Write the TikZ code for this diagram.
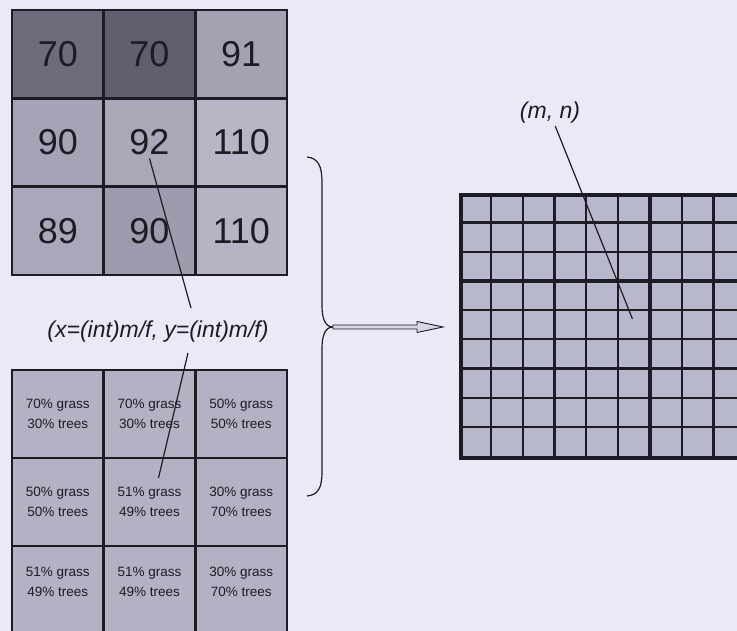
\documentclass[tikz,border=0pt]{standalone}
\usepackage{fontspec}
\setmainfont{Liberation Sans}
\usetikzlibrary{calc}
\definecolor{Page}{HTML}{EAEAF6}
\definecolor{Ink}{HTML}{1C1C24}
\definecolor{MixFill}{HTML}{B2B2C4}
\definecolor{FineFill}{HTML}{B8B8CC}
\definecolor{ArrowFill}{HTML}{D6D6E4}
\tikzset{
valcell/.style={draw=Ink, line width=2.4pt, minimum width=91.7pt, minimum height=88.3pt, inner sep=0pt, text=Ink, font=\fontsize{36}{40}\selectfont},
mixcell/.style={draw=Ink, line width=2.4pt, minimum width=91.7pt, minimum height=88pt, inner sep=0pt, fill=MixFill, text=Ink, align=center, font=\fontsize{13.5}{20}\selectfont},
finebox/.style={draw=Ink, line width=3.6pt, fill=FineFill, minimum width=286pt, minimum height=263pt, inner sep=0pt},
finethin/.style={draw=Ink, line width=2.2pt},
finethick/.style={draw=Ink, line width=3.6pt},
pointer/.style={draw=Ink, line width=1.2pt},
bracepath/.style={draw=Ink, line width=1.2pt},
hollowarrow/.style={draw=Ink, line width=0.9pt, fill=ArrowFill, line join=miter},
coordlabel/.style={text=Ink, inner sep=2pt, font=\fontsize{23}{26}\selectfont\itshape}
}
\begin{document}
\begin{tikzpicture}[x=1pt, y=-1pt]
  \useasboundingbox (0,0) rectangle (737,631);
  \clip (0,0) rectangle (737,631);
  \fill[Page] (0,0) rectangle (737,631);
  \node[valcell, fill={rgb,255:red,108;green,108;blue,124}] (v11) at (57.8,54.2) {70};
  \node[valcell, fill={rgb,255:red,94;green,94;blue,110}] (v12) at (149.5,54.2) {70};
  \node[valcell, fill={rgb,255:red,162;green,162;blue,178}] (v13) at (241.2,54.2) {91};
  \node[valcell, fill={rgb,255:red,164;green,164;blue,182}] (v21) at (57.8,142.5) {90};
  \node[valcell, fill={rgb,255:red,168;green,168;blue,184}] (v22) at (149.5,142.5) {92};
  \node[valcell, fill={rgb,255:red,182;green,182;blue,198}] (v23) at (241.2,142.5) {110};
  \node[valcell, fill={rgb,255:red,168;green,168;blue,186}] (v31) at (57.8,230.8) {89};
  \node[valcell, fill={rgb,255:red,156;green,156;blue,174}] (v32) at (149.5,230.8) {90};
  \node[valcell, fill={rgb,255:red,180;green,180;blue,196}] (v33) at (241.2,230.8) {110};
  \node[mixcell] (m11) at (57.8,414) {70\% grass\\30\% trees};
  \node[mixcell] (m12) at (149.5,414) {70\% grass\\30\% trees};
  \node[mixcell] (m13) at (241.2,414) {50\% grass\\50\% trees};
  \node[mixcell] (m21) at (57.8,502) {50\% grass\\50\% trees};
  \node[mixcell] (m22) at (149.5,502) {51\% grass\\49\% trees};
  \node[mixcell] (m23) at (241.2,502) {30\% grass\\70\% trees};
  \node[mixcell] (m31) at (57.8,590) {51\% grass\\49\% trees\\[-4pt]\mbox{}};
  \node[mixcell] (m32) at (149.5,590) {51\% grass\\49\% trees\\[-4pt]\mbox{}};
  \node[mixcell] (m33) at (241.2,590) {30\% grass\\70\% trees\\[-4pt]\mbox{}};
  \node[coordlabel] (lbl) at (158,332) {(x=(int)m/f, y=(int)m/f)};
  \node[finebox] (fine) at (604,326.5) {};
  \foreach \i in {1,2,4,5,7,8} {
    \draw[finethin] ($(fine.north west)+(\i*31.78,0)$) -- ($(fine.south west)+(\i*31.78,0)$);
    \draw[finethin] ($(fine.north west)+(0,\i*29.22)$) -- ($(fine.north east)+(0,\i*29.22)$);
  }
  \foreach \i in {3,6} {
    \draw[finethick] ($(fine.north west)+(\i*31.78,0)$) -- ($(fine.south west)+(\i*31.78,0)$);
    \draw[finethick] ($(fine.north west)+(0,\i*29.22)$) -- ($(fine.north east)+(0,\i*29.22)$);
  }
  \node[coordlabel] (mn) at (550,113) {(m, n)};
  \coordinate (p92) at ($(v22)+(0,16)$);
  \coordinate (p51) at ($(m22)+(9,-24)$);
  \coordinate (lblup) at ($(lbl.north)+(33,-11)$);
  \coordinate (lbldn) at ($(lbl.south)+(30,8)$);
  \coordinate (mncell) at ($(fine.north west)+(5.45*31.78,4.3*29.22)$);
  \coordinate (brtip) at (333,327);
  \draw[pointer] (p92) -- (lblup);
  \draw[pointer] (lbldn) -- (p51);
  \draw[pointer] (mn) -- (mncell);
  \draw[bracepath] (307,157) .. controls (318,158) and (322,166) .. (322,182)
    -- (322,306) .. controls (322,320) and (326,327) .. (brtip)
    .. controls (326,327) and (322,334) .. (322,348)
    -- (322,472) .. controls (322,488) and (318,495) .. (307,496);
  \draw[hollowarrow] (brtip) -- ++(0,-2) -- ++(84,0) -- ++(0,-3.5) -- ++(26,5.5)
    -- ++(-26,5.5) -- ++(0,-3.5) -- ++(-84,0) -- cycle;
\end{tikzpicture}
\end{document}
